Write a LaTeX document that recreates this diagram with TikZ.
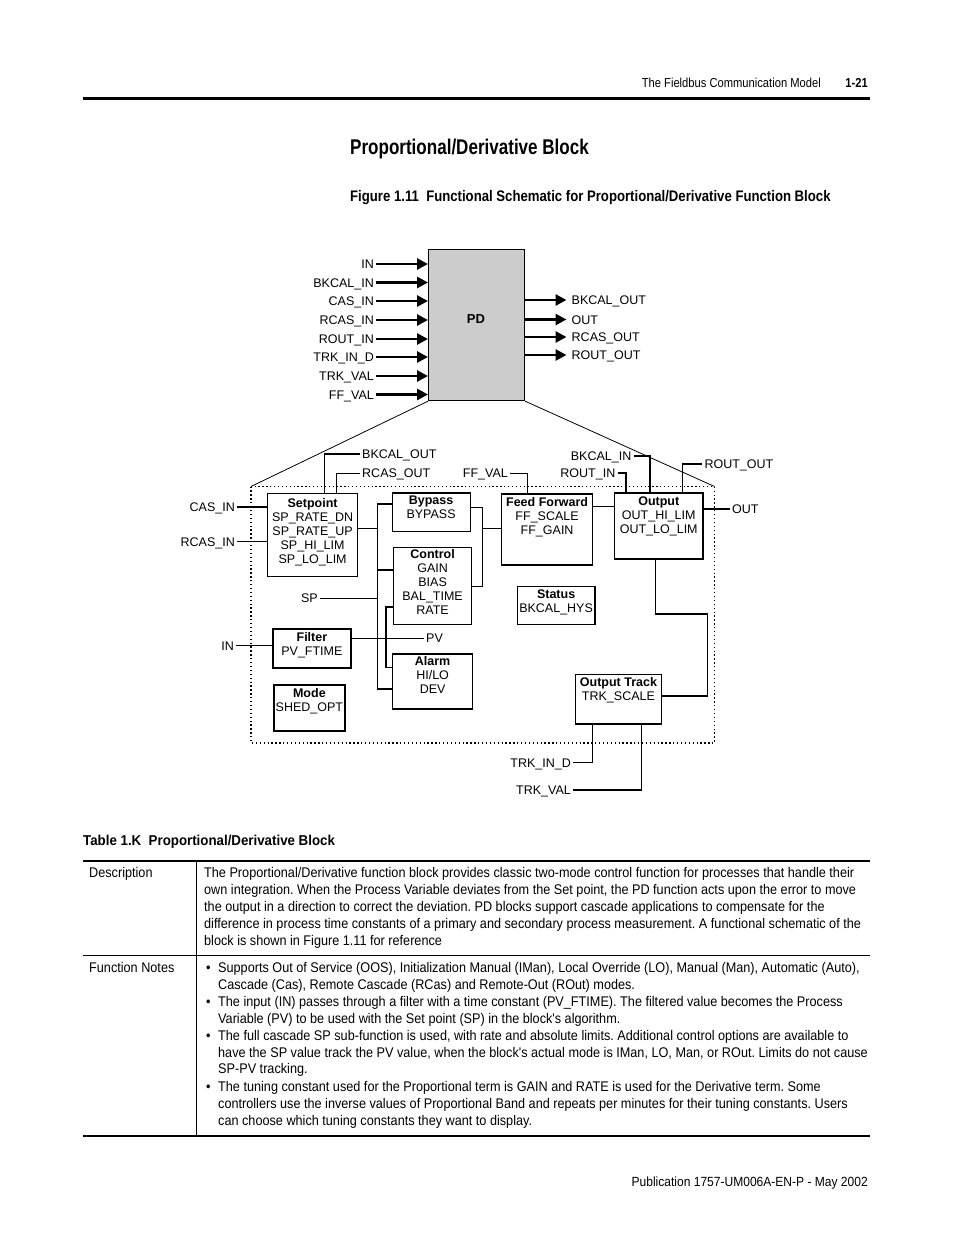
\documentclass[tikz,border=0pt]{standalone}
\usepackage{fontspec}
\setmainfont{Liberation Sans}
\newfontfamily\bodyf{Liberation Sans}[FakeStretch=0.905]
\newfontfamily\headf{Liberation Sans}[FakeStretch=0.86]
\newfontfamily\titf{Liberation Sans}[FakeStretch=0.80]
\newfontfamily\capf{Liberation Sans}[FakeStretch=0.86]
\newfontfamily\tblf{Liberation Sans}[FakeStretch=0.93]
\usetikzlibrary{arrows.meta}
\definecolor{pdgray}{RGB}{204,204,204}
\frenchspacing
\tikzset{
  lbl/.style={inner xsep=2pt, inner ysep=0pt, text height=9pt, text depth=0pt, font=\fontsize{12.5}{14}\selectfont},
  blk/.style={draw, line width=1.2pt, inner sep=0pt, anchor=north west},
  btxt/.style={inner sep=0pt, anchor=north, align=center, font=\fontsize{12.5}{14}\selectfont},
  wire/.style={line width=1.2pt},
  bigarrow/.style={line width=2.8pt, -{Triangle[length=11pt,width=11pt]}},
  body/.style={inner sep=0pt, anchor=base west, font=\bodyf\fontsize{14}{17}\selectfont},
  rule/.style={line width=#1},
}
\begin{document}
\begin{tikzpicture}[x=1pt,y=-1pt]
\useasboundingbox[fill=white] (0,0) rectangle (954,1235);

% header
\node[inner sep=0pt, anchor=base east, font=\headf\fontsize{13}{15}\selectfont] (hdr) at (821,87) {The Fieldbus Communication Model};
\node[inner sep=0pt, anchor=base east, font=\headf\bfseries\fontsize{13}{15}\selectfont] (pg) at (868,87) {1-21};
\draw[rule=3pt] (83,98) -- (870,98);
\node[inner sep=0pt, anchor=base west, font=\titf\bfseries\fontsize{21.3}{24}\selectfont] (title) at (350,154.5) {Proportional/Derivative Block};
\node[inner sep=0pt, anchor=base west, font=\capf\bfseries\fontsize{15.3}{18}\selectfont] (cap) at (350,201.5) {Figure 1.11\ \ Functional Schematic for Proportional/Derivative Function Block};

% PD block
\node[blk, fill=pdgray, minimum width=96pt, minimum height=151pt] (pd) at (428,249) {};
\node[font=\bfseries\fontsize{13}{15}\selectfont, inner sep=0pt] (pdt) at (476,319) {PD};

\node[lbl, anchor=east] (iIN) at (376,264) {IN};
\node[lbl, anchor=east] (iBK) at (376,282.5) {BKCAL\_IN};
\node[lbl, anchor=east] (iCAS) at (376,301) {CAS\_IN};
\node[lbl, anchor=east] (iRCAS) at (376,320) {RCAS\_IN};
\node[lbl, anchor=east] (iROUT) at (376,339) {ROUT\_IN};
\node[lbl, anchor=east] (iTID) at (376,357) {TRK\_IN\_D};
\node[lbl, anchor=east] (iTV) at (376,376) {TRK\_VAL};
\node[lbl, anchor=east] (iFF) at (376,394.5) {FF\_VAL};
\foreach \n in {iIN,iBK,iCAS,iRCAS,iROUT,iTID,iTV,iFF}
  \draw[bigarrow] (\n.east) -- (\n.east -| pd.west);

\node[lbl, anchor=west] (oBK) at (569.5,300) {BKCAL\_OUT};
\node[lbl, anchor=west] (oOUT) at (569.5,319.5) {OUT};
\node[lbl, anchor=west] (oRC) at (569.5,337) {RCAS\_OUT};
\node[lbl, anchor=west] (oRO) at (569.5,355) {ROUT\_OUT};
\foreach \n in {oBK,oOUT,oRC,oRO}
  \draw[bigarrow] (\n.west -| pd.east) -- ([xshift=-3pt]\n.west);

% dotted frame and perspective lines
\coordinate (dtl) at (251,486.5);
\coordinate (dbr) at (714.5,743);
\draw[line width=1.1pt, dash pattern=on 1.3pt off 2.6pt] (dtl) rectangle (dbr);
\draw[line width=0.8pt] (pd.south west) -- (dtl);
\draw[line width=0.8pt] (pd.south east) -- (dtl -| dbr);

% boxes
\node[blk, minimum width=90pt, minimum height=83pt] (sp) at (267,493) {};
\node[btxt] (sptx) at ([yshift=-5pt]sp.north) {\textbf{Setpoint}\\SP\_RATE\_DN\\SP\_RATE\_UP\\SP\_HI\_LIM\\SP\_LO\_LIM};

\node[blk, minimum width=78pt, minimum height=38.5pt] (byp) at (391.5,492.3) {};
\node[btxt] (byptx) at ([yshift=-3pt]byp.north) {\textbf{Bypass}\\BYPASS};

\node[blk, minimum width=78pt, minimum height=77.5pt] (ctl) at (393,546.5) {};
\node[btxt] (ctltx) at ([yshift=-2.5pt]ctl.north) {\textbf{Control}\\GAIN\\BIAS\\BAL\_TIME\\RATE};

\node[blk, minimum width=80pt, minimum height=55pt] (alm) at (392,653.3) {};
\node[btxt] (almtx) at ([yshift=-3pt]alm.north) {\textbf{Alarm}\\HI/LO\\DEV};

\node[blk, minimum width=78pt, minimum height=39pt] (flt) at (272.3,628.3) {};
\node[btxt] (flttx) at ([yshift=-4pt]flt.north) {\textbf{Filter}\\PV\_FTIME};

\node[blk, minimum width=71pt, minimum height=46pt] (mode) at (273.3,684.3) {};
\node[btxt] (modetx) at ([yshift=-4pt]mode.north) {\textbf{Mode}\\SHED\_OPT};

\node[blk, minimum width=91pt, minimum height=71pt] (ff) at (501,493.3) {};
\node[btxt] (fftx) at ([yshift=-4pt]ff.north) {\textbf{Feed Forward}\\FF\_SCALE\\FF\_GAIN};

\node[blk, minimum width=88.3pt, minimum height=66pt] (out) at (614,492.3) {};
\node[btxt] (outtx) at ([yshift=-4pt]out.north) {\textbf{Output}\\OUT\_HI\_LIM\\OUT\_LO\_LIM};

\node[blk, minimum width=77.6pt, minimum height=38.3pt] (st) at (516.7,585.7) {};
\node[btxt] (sttx) at ([yshift=-3.5pt]st.north) {\textbf{Status}\\BKCAL\_HYS};

\node[blk, minimum width=86.3pt, minimum height=49.6pt] (ot) at (574.7,673.7) {};
\node[btxt] (ottx) at ([yshift=-3.5pt]ot.north) {\textbf{Output Track}\\TRK\_SCALE};

% inner labels
\node[lbl, anchor=west] (lBKO) at (360,454) {BKCAL\_OUT};
\node[lbl, anchor=west] (lRCO) at (360,473.3) {RCAS\_OUT};
\node[lbl, anchor=east] (lCAS) at (237,507) {CAS\_IN};
\node[lbl, anchor=east] (lRCAS) at (237,541.7) {RCAS\_IN};
\node[lbl, anchor=east] (lSP) at (320,598.3) {SP};
\node[lbl, anchor=east] (lIN) at (236,645.7) {IN};
\node[lbl, anchor=west] (lPV) at (424,638.3) {PV};
\node[lbl, anchor=east] (lFF) at (510,473.3) {FF\_VAL};
\node[lbl, anchor=east] (lRIN) at (617.5,473) {ROUT\_IN};
\node[lbl, anchor=east] (lBIN) at (633.5,456) {BKCAL\_IN};
\node[lbl, anchor=west] (lRO) at (702.3,464) {ROUT\_OUT};
\node[lbl, anchor=west] (lOUT) at (730,509) {OUT};
\node[lbl, anchor=east] (lTID) at (573,762.7) {TRK\_IN\_D};
\node[lbl, anchor=east] (lTV) at (573,790) {TRK\_VAL};

% buses
\coordinate (b1t) at (377.3,504);
\coordinate (b1b) at (377.3,689);
\coordinate (b2t) at (386,607);
\coordinate (b2b) at (386,667.5);
\coordinate (b3t) at (482.3,507.7);
\coordinate (b3b) at (482.3,586.7);

% wires
\draw[wire] (lBKO.west) -| ([xshift=57.3pt]sp.north west);
\draw[wire] (lRCO.west) -| ([xshift=69.7pt]sp.north west);
\draw[wire] (lCAS.east) -- (lCAS.east -| sp.west);
\draw[wire] (lRCAS.east) -- (lRCAS.east -| sp.west);
\draw[wire] ([yshift=6.5pt]sp.east) -- ([yshift=6.5pt]sp.east -| b1t);
\draw[wire] (byp.west |- b1t) -- (b1t) -- (b1b) -- (alm.west |- b1b);
\draw[wire] (b1t |- 0,570) -- (ctl.west |- 0,570);
\draw[wire] (lSP.east) -- (lSP.east -| b1t);
\draw[wire] (ctl.west |- b2t) -- (b2t) -- (b2b) -- (alm.west |- b2b);
\draw[wire] (flt.east |- lPV.west) -- (lPV.west);
\draw[wire] (lIN.east) -- (lIN.east -| flt.west);
\draw[wire] (byp.east |- b3t) -- (b3t) -- (b3b) -- (ctl.east |- b3b);
\draw[wire] (b3t |- 0,528.3) -- (ff.west |- 0,528.3);
\draw[wire] (lFF.east) -| ([xshift=26.3pt]ff.north west);
\draw[wire] (ff.east |- 0,506.7) -- (out.west |- 0,506.7);
\draw[wire] (lRIN.east) -| ([xshift=12pt]out.north west);
\draw[wire] (lBIN.east) -| ([xshift=36pt]out.north west);
\draw[wire] ([xshift=68.7pt]out.north west) |- (lRO.west);
\draw[wire] (out.east |- lOUT.west) -- (lOUT.west);
\draw[wire] ([xshift=41.7pt]out.south west) |- (707.7,614) -- (707.7,696) -- (ot.east |- 0,696);
\draw[wire] ([xshift=18pt]ot.south west) |- (lTID.east);
\draw[wire] ([xshift=67pt]ot.south west) |- (lTV.east);

% table
\node[inner sep=0pt, anchor=base west, font=\tblf\bfseries\fontsize{14.3}{17}\selectfont] (ttl) at (83,845) {Table 1.K\ \ Proportional/Derivative Block};
\draw[rule=1.5pt] (83,861) -- (870,861);
\draw[rule=1pt] (83,955.5) -- (870,955.5);
\draw[rule=1.5pt] (83,1136) -- (870,1136);
\draw[rule=1pt] (196,861) -- (196,1136);

\node[body] (d0) at (89,877) {Description};
\node[body] (d1) at (204,877) {The Proportional/Derivative function block provides classic two-mode control function for processes that handle their};
\node[body] (d2) at (204,894) {own integration. When the Process Variable deviates from the Set point, the PD function acts upon the error to move};
\node[body] (d3) at (204,911) {the output in a direction to correct the deviation. PD blocks support cascade applications to compensate for the};
\node[body] (d4) at (204,928) {difference in process time constants of a primary and secondary process measurement. A functional schematic of the};
\node[body] (d5) at (204,945) {block is shown in Figure 1.11 for reference};

\node[body] (f0) at (89,972) {Function Notes};
\node[body] (fb1) at (206,972) {•};
\node[body] (f1) at (218,972) {Supports Out of Service (OOS), Initialization Manual (IMan), Local Override (LO), Manual (Man), Automatic (Auto),};
\node[body] (f2) at (218,989) {Cascade (Cas), Remote Cascade (RCas) and Remote-Out (ROut) modes.};
\node[body] (fb3) at (206,1006) {•};
\node[body] (f3) at (218,1006) {The input (IN) passes through a filter with a time constant (PV\_FTIME). The filtered value becomes the Process};
\node[body] (f4) at (218,1023) {Variable (PV) to be used with the Set point (SP) in the block's algorithm.};
\node[body] (fb5) at (206,1040) {•};
\node[body] (f5) at (218,1040) {The full cascade SP sub-function is used, with rate and absolute limits. Additional control options are available to};
\node[body] (f6) at (218,1057) {have the SP value track the PV value, when the block's actual mode is IMan, LO, Man, or ROut. Limits do not cause};
\node[body] (f7) at (218,1073) {SP-PV tracking.};
\node[body] (fb8) at (206,1091) {•};
\node[body] (f8) at (218,1091) {The tuning constant used for the Proportional term is GAIN and RATE is used for the Derivative term. Some};
\node[body] (f9) at (218,1108) {controllers use the inverse values of Proportional Band and repeats per minutes for their tuning constants. Users};
\node[body] (f10) at (218,1125) {can choose which tuning constants they want to display.};

% footer
\node[inner sep=0pt, anchor=base east, font=\bodyf\fontsize{13.3}{15}\selectfont] (ftr) at (868,1186) {Publication 1757-UM006A-EN-P - May 2002};
\end{tikzpicture}
\end{document}
